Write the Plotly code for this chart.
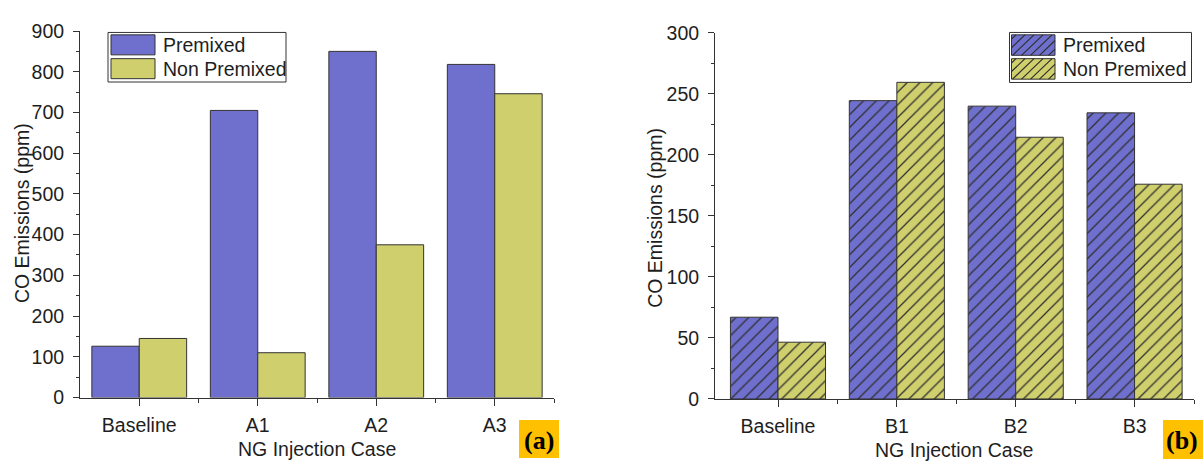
import plotly.graph_objects as go

# ---- data -------------------------------------------------------------
cases_a = ["Baseline", "A1", "A2", "A3"]
premixed_a = [126, 705, 850, 818]
non_premixed_a = [145, 110, 375, 746]

cases_b = ["Baseline", "B1", "B2", "B3"]
premixed_b = [67, 244.5, 240, 234.5]
non_premixed_b = [46.5, 259.5, 214.5, 176]

series_names = ["Premixed", "Non Premixed"]
y_title = "CO Emissions (ppm)"
x_title = "NG Injection Case"
panel_labels = ["(a)", "(b)"]

# ---- style ------------------------------------------------------------
W, H = 1203, 470
BLUE = "#6f6fce"
OLIVE = "#cfcf6e"
EDGE = "#333333"
TXT = "#1e1e1e"
FONT = "Liberation Sans, Arial, sans-serif"
FS = 19.5


def px(x):
    return x / W


def py(y):
    return 1 - y / H


fig = go.Figure()

pos_a = list(range(len(cases_a)))
pos_b = list(range(len(cases_b)))

hatch = dict(shape="/", size=9, solidity=0.14, fgcolor="#2f2f2f", fgopacity=1)

fig.add_trace(go.Bar(x=pos_a, y=premixed_a, name=series_names[0], xaxis="x", yaxis="y",
                     marker=dict(color=BLUE, line=dict(color=EDGE, width=1)), showlegend=False))
fig.add_trace(go.Bar(x=pos_a, y=non_premixed_a, name=series_names[1], xaxis="x", yaxis="y",
                     marker=dict(color=OLIVE, line=dict(color=EDGE, width=1)), showlegend=False))
fig.add_trace(go.Bar(x=pos_b, y=premixed_b, name=series_names[0], xaxis="x2", yaxis="y2",
                     marker=dict(color=BLUE, line=dict(color=EDGE, width=1), pattern=hatch),
                     showlegend=False))
fig.add_trace(go.Bar(x=pos_b, y=non_premixed_b, name=series_names[1], xaxis="x2", yaxis="y2",
                     marker=dict(color=OLIVE, line=dict(color=EDGE, width=1), pattern=hatch),
                     showlegend=False))

axis_common = dict(
    showline=True, linecolor=EDGE, linewidth=1, mirror=False,
    showgrid=False, zeroline=False,
    ticks="outside", tickcolor=EDGE, tickwidth=1,
    tickfont=dict(family=FONT, size=FS, color=TXT),
)

fig.update_layout(
    width=W, height=H, margin=dict(l=0, r=0, t=0, b=0),
    paper_bgcolor="white", plot_bgcolor="white",
    barmode="group", bargap=0.2, bargroupgap=0,
    xaxis=dict(axis_common, domain=[px(80), px(554)], range=[-0.5, 3.5], anchor="y",
               tickmode="array", tickvals=pos_a, ticktext=cases_a, ticklen=7,
               ticklabelstandoff=3,
               minor=dict(tickmode="array", tickvals=[0.5, 1.5, 2.5, 3.5], ticklen=4,
                          tickcolor=EDGE, ticks="outside")),
    yaxis=dict(axis_common, domain=[py(405.5), py(21)], range=[0, 900], anchor="x",
               tickmode="linear", tick0=0, dtick=100, ticklen=6, ticklabelstandoff=5,
               minor=dict(dtick=50, ticklen=3, tickcolor=EDGE, ticks="outside")),
    xaxis2=dict(axis_common, domain=[px(715), px(1194)], range=[-0.53, 3.5], anchor="y2",
                tickmode="array", tickvals=pos_b, ticktext=cases_b, ticklen=7,
                ticklabelstandoff=3,
                minor=dict(tickmode="array", tickvals=[0.5, 1.5, 2.5, 3.5], ticklen=4,
                           tickcolor=EDGE, ticks="outside")),
    yaxis2=dict(axis_common, domain=[py(407), py(23)], range=[0, 300], anchor="x2",
                tickmode="linear", tick0=0, dtick=50, ticklen=6, ticklabelstandoff=5,
                minor=dict(dtick=25, ticklen=3, tickcolor=EDGE, ticks="outside")),
)

shapes = []
annotations = []


def text(x, y, s, size=FS, angle=0, anchor="center", family=FONT, color=TXT):
    annotations.append(dict(x=px(x), y=py(y), xref="paper", yref="paper", text=s,
                            showarrow=False, textangle=angle, xanchor=anchor, yanchor="middle",
                            font=dict(family=family, size=size, color=color)))


def rect(x0, y0, x1, y1, fill, line=EDGE, lw=1):
    shapes.append(dict(type="rect", xref="paper", yref="paper",
                       x0=px(x0), x1=px(x1), y0=py(y1), y1=py(y0),
                       fillcolor=fill, line=dict(color=line, width=lw), layer="above"))


def hatch_lines(x0, y0, x1, y1, step=9):
    # "/" diagonals clipped to the rectangle (screen pixels, y down)
    segs = []
    c = x0 + y0 + step / 2
    while c < x1 + y1:
        pts = []
        for x in (x0, x1):
            y = c - x
            if y0 <= y <= y1:
                pts.append((x, y))
        for y in (y0, y1):
            x = c - y
            if x0 <= x <= x1:
                pts.append((x, y))
        pts = sorted(set(pts))
        if len(pts) >= 2:
            (ax, ay), (bx, by) = pts[0], pts[-1]
            segs.append(f"M{px(ax):.5f},{py(ay):.5f}L{px(bx):.5f},{py(by):.5f}")
        c += step
    if segs:
        shapes.append(dict(type="path", xref="paper", yref="paper", path="".join(segs),
                           line=dict(color="#2f2f2f", width=1.2), layer="above"))


# legends
rect(108, 22.5, 286, 74.5, "white")
rect(111, 25, 155, 46, BLUE)
rect(111, 50, 155, 71, OLIVE)
text(161, 35.5, series_names[0], anchor="left")
text(161, 60.5, series_names[1], anchor="left")

rect(1009.5, 22.5, 1191.5, 75, "white")
rect(1011.5, 25, 1055, 46.5, BLUE)
hatch_lines(1011.5, 25, 1055, 46.5)
rect(1011.5, 50, 1055, 71.5, OLIVE)
hatch_lines(1011.5, 50, 1055, 71.5)
text(1061, 36, series_names[0], anchor="left")
text(1061, 61, series_names[1], anchor="left")

# axis titles
text(22, 212, y_title, angle=-90)
text(655, 217, y_title, angle=-90)
text(317, 459, x_title)
text(954, 461, x_title)

# panel tags
rect(519, 429, 559, 469, "#ffc000", line="#ffc000", lw=0)
text(539, 451, "<b>" + panel_labels[0] + "</b>", size=26,
     family="Liberation Serif, Times New Roman, serif", color="black")
rect(1163, 429, 1203, 470, "#ffc000", line="#ffc000", lw=0)
text(1182, 451, "<b>" + panel_labels[1] + "</b>", size=26,
     family="Liberation Serif, Times New Roman, serif", color="black")

fig.update_layout(shapes=shapes, annotations=annotations)

fig.write_html("out.html")
